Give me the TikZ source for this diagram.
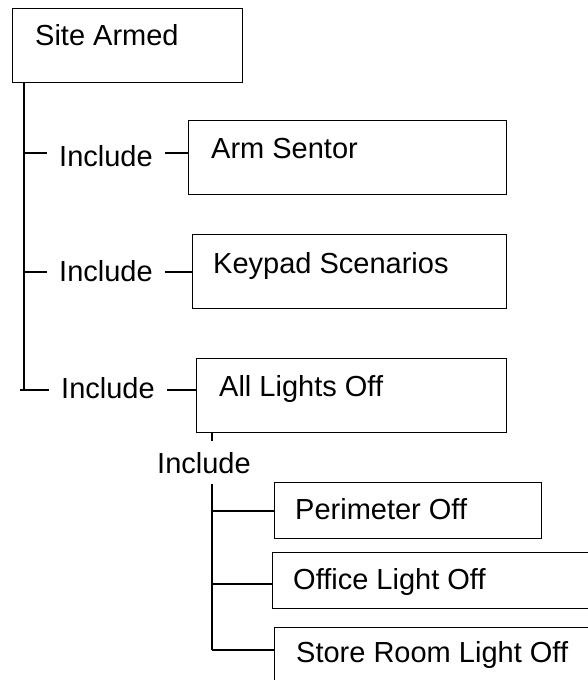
\documentclass[tikz,border=0pt]{standalone}
\usepackage{fontspec}
\setmainfont{Liberation Sans}
\tikzset{
  box/.style={draw, line width=1.4pt, anchor=north west, inner sep=0pt},
  lbl/.style={anchor=base west, inner sep=0pt, font=\fontsize{29}{34}\selectfont},
  inc/.style={anchor=base west, inner xsep=12pt, inner ysep=10.5pt, font=\fontsize{29}{34}\selectfont},
  conn/.style={line width=1.4pt}
}
\begin{document}
\begin{tikzpicture}[x=1pt,y=-1pt]
\useasboundingbox (0,0) rectangle (587,680);
% boxes
\node[box, minimum width=230pt, minimum height=74pt] (site) at (12,8) {};
\node[box, minimum width=318pt, minimum height=74pt] (arm) at (188,120) {};
\node[box, minimum width=314pt, minimum height=74pt] (key) at (192,234) {};
\node[box, minimum width=310pt, minimum height=74pt] (all) at (196,358) {};
\node[box, minimum width=267pt, minimum height=56pt] (per) at (274,482) {};
\node[box, minimum width=400pt, minimum height=56pt] (off) at (272,552) {};
\node[box, minimum width=400pt, minimum height=90pt] (store) at (274,627) {};
% texts
\node[lbl] (tsite) at (35,45) {Site Armed};
\node[lbl] (tarm) at (211,158) {Arm Sentor};
\node[lbl] (tkey) at (213,273) {Keypad Scenarios};
\node[lbl] (tall) at (219,396) {All Lights Off};
\node[lbl] (tper) at (295,519) {Perimeter Off};
\node[lbl] (toff) at (293,589) {Office Light Off};
\node[lbl] (tstore) at (296,662) {Store Room Light Off};
% include labels
\node[inc] (inc1) at (47,166) {Include};
\node[inc] (inc2) at (47,281) {Include};
\node[inc] (inc3) at (49,398) {Include};
\node[inc] (inc4) at (145,473) {Include};
% main trunk
\coordinate (trunk) at (24,82);
\coordinate (r1) at (24,153);
\coordinate (r2) at (24,272);
\coordinate (r3) at (20,390);
\coordinate (tend) at (24,390);
\draw[conn] (trunk) -- (tend);
\draw[conn] (r1) -- (r1 -| inc1.west);
\draw[conn] (r1 -| inc1.east) -- (r1 -| arm.west);
\draw[conn] (r2) -- (r2 -| inc2.west);
\draw[conn] (r2 -| inc2.east) -- (r2 -| key.west);
\draw[conn] (r3) -- (r3 -| inc3.west);
\draw[conn] (r3 -| inc3.east) -- (r3 -| all.west);
% sub trunk
\coordinate (sx) at (212,432);
\coordinate (b1) at (212,511);
\coordinate (b2) at (212,584);
\coordinate (b3) at (212,650);
\draw[conn] (sx) -- (sx |- inc4.north);
\draw[conn] (sx |- inc4.south) -- (b3);
\draw[conn] (b1) -- (b1 -| per.west);
\draw[conn] (b2) -- (b2 -| off.west);
\draw[conn] (b3) -- (b3 -| store.west);
\end{tikzpicture}
\end{document}
